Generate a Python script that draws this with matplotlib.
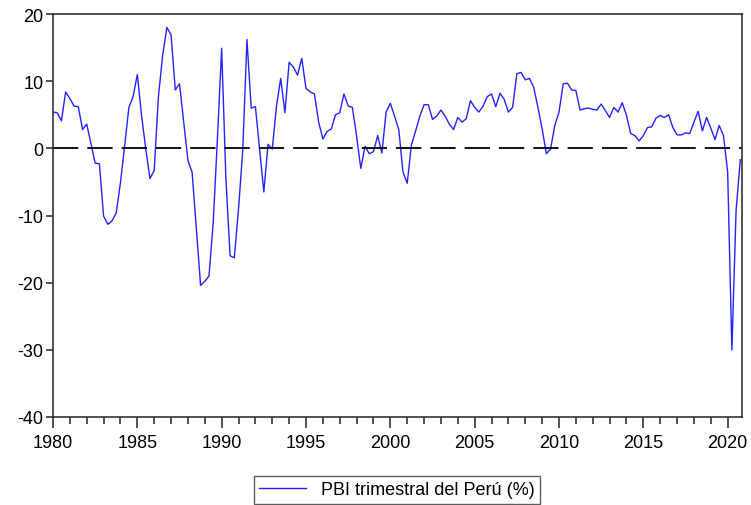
import numpy as np
import matplotlib
matplotlib.use("Agg")
import matplotlib.pyplot as plt
from matplotlib.ticker import MultipleLocator

plt.rcParams['font.family'] = ['Liberation Sans Narrow', 'Liberation Sans', 'DejaVu Sans']
plt.rcParams['axes.unicode_minus'] = False

# PBI trimestral, variacion % (1980Q1 - 2020Q4)
pbi = [
    5.4, 5.3, 4.1, 8.4, 7.4, 6.3, 6.2, 2.8, 3.6, 0.7, -2.2, -2.3,
    -10.1, -11.3, -10.8, -9.6, -5.1, 0.4, 6.1, 7.7, 11.0, 4.9, -0.1, -4.5,
    -3.3, 7.7, 13.8, 18.0, 16.9, 8.7, 9.6, 3.9, -1.8, -3.6, -12.0, -20.4,
    -19.8, -19.0, -11.0, 1.5, 14.9, -4.5, -16.0, -16.3, -9.0, -0.3, 16.2, 6.0,
    6.2, -0.1, -6.5, 0.6, -0.1, 6.3, 10.4, 5.3, 12.8, 12.1, 10.9, 13.4,
    8.9, 8.4, 8.1, 3.9, 1.4, 2.5, 2.9, 5.0, 5.3, 8.1, 6.3, 6.1,
    1.8, -3.0, 0.3, -0.8, -0.5, 1.9, -0.7, 5.4, 6.7, 4.8, 2.8, -3.5,
    -5.2, 0.5, 2.6, 4.8, 6.5, 6.5, 4.3, 4.8, 5.7, 4.8, 3.6, 2.8,
    4.6, 3.9, 4.4, 7.1, 6.1, 5.4, 6.3, 7.7, 8.1, 6.2, 8.2, 7.3,
    5.4, 6.1, 11.1, 11.3, 10.2, 10.4, 9.1, 6.1, 2.9, -0.8, -0.1, 3.4,
    5.4, 9.6, 9.7, 8.7, 8.6, 5.7, 5.9, 6.0, 5.8, 5.7, 6.6, 5.6,
    4.6, 6.1, 5.4, 6.8, 4.9, 2.2, 1.9, 1.1, 1.9, 3.1, 3.2, 4.5,
    4.9, 4.6, 5.0, 3.1, 2.0, 2.0, 2.3, 2.2, 3.9, 5.5, 2.6, 4.6,
    3.0, 1.3, 3.4, 1.9, -3.5, -30.0, -9.2, -1.7,
]
fechas = 1980 + np.arange(len(pbi)) / 4
anios = list(range(1980, 2021, 5))
yticks = [20, 10, 0, -10, -20, -30, -40]

fig = plt.figure(figsize=(7.51, 5.06), dpi=100)
ax = fig.add_axes([53 / 751, 1 - 418 / 506, 689 / 751, 403 / 506])

ax.plot(fechas, pbi, color='#2323ff', lw=1.0, label='PBI trimestral del Perú (%)')
ax.axhline(0, color='black', lw=1.3, dashes=(14, 5))

ax.set_xlim(1980, fechas[-1] + 0.1)
ax.set_ylim(-40, 20)
ax.set_xticks(anios)
ax.xaxis.set_minor_locator(MultipleLocator(1))
ax.set_yticks(yticks)
ax.tick_params(axis='both', which='major', labelsize=13, color='#333333', width=1.2)
ax.tick_params(axis='x', which='major', length=8, pad=4)
ax.tick_params(axis='x', which='minor', length=5, color='#333333', width=1.2)
ax.tick_params(axis='y', which='major', length=5, pad=2)
for s in ax.spines.values():
    s.set_color('#333333')
    s.set_linewidth(1.2)

leg = fig.legend(loc='upper center', bbox_to_anchor=(397 / 751, 1 - 477 / 506),
                 fontsize=13, frameon=True, fancybox=False, edgecolor='#333333',
                 handlelength=2.6, borderpad=0.3, borderaxespad=0)
leg.get_frame().set_linewidth(1.0)

fig.savefig('out.png', dpi=100)
